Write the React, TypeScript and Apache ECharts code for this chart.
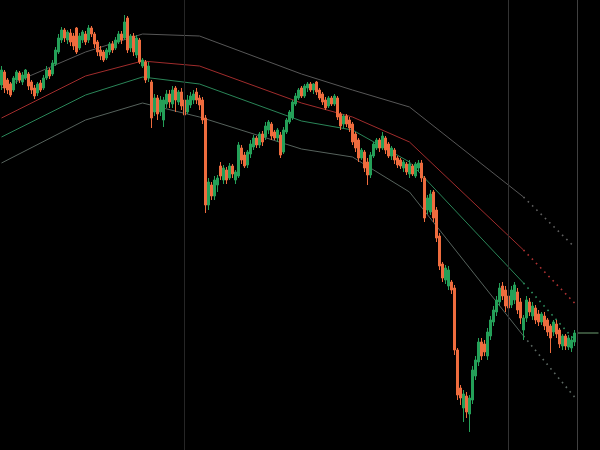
import React, { useEffect, useRef } from "react";
import * as echarts from "echarts";

// [open, close, low, high]
const candles: number[][] = [
  [415,430,410,434],[428,412,407,430],[420,410,406,422],[416,405,403,418],[410,422,408,424],
  [420,428,416,430],[427,420,417,429],[418,425,415,428],[422,430,420,431],[426,414,410,428],
  [418,410,406,420],[412,404,401,415],[407,416,404,418],[417,410,408,420],[412,422,410,425],
  [422,430,420,434],[430,424,421,432],[426,437,424,440],[436,450,434,453],[448,462,446,466],
  [460,470,457,473],[470,462,458,472],[460,468,456,470],[467,458,454,471],[464,454,450,467],
  [472,448,446,473],[452,464,450,467],[460,468,457,470],[466,458,455,469],[460,472,457,475],
  [472,466,463,474],[466,456,452,468],[458,448,444,460],[450,444,440,454],[448,440,438,450],
  [442,450,440,452],[448,456,445,458],[456,450,447,459],[452,460,450,463],[458,466,456,469],
  [466,460,456,469],[462,478,460,485],[482,450,447,484],[452,464,448,466],[464,448,444,467],
  [445,462,442,465],[460,438,436,462],[434,440,432,442],[438,420,417,440],[422,434,418,438],
  [418,382,372,420],[388,402,384,406],[402,386,380,405],[388,400,384,404],[380,400,373,403],
  [396,406,392,410],[406,398,392,410],[396,410,392,414],[412,400,388,414],[398,408,395,410],
  [408,394,390,412],[400,385,382,408],[388,400,386,405],[395,404,392,408],[400,406,396,410],
  [408,400,396,412],[402,395,390,405],[400,380,376,403],[382,295,287,385],[295,318,290,322],
  [315,304,300,318],[304,320,300,324],[315,322,308,325],[334,324,320,338],[320,332,316,335],
  [330,320,316,333],[322,334,320,337],[334,326,322,336],[320,328,316,330],[324,355,322,358],
  [352,340,336,355],[345,334,332,348],[335,348,332,350],[346,356,342,360],[353,362,350,365],
  [362,355,352,364],[355,366,352,368],[366,358,354,369],[363,374,360,378],[370,378,366,380],
  [376,364,360,378],[368,362,360,370],[362,370,358,372],[365,345,342,368],[348,370,346,373],
  [368,380,366,382],[378,388,376,390],[382,398,380,400],[396,404,394,407],[402,410,400,412],
  [412,404,402,414],[404,414,402,416],[412,416,408,418],[416,410,408,418],[410,416,406,417],
  [418,408,405,419],[410,402,400,412],[406,398,395,408],[400,392,390,403],[394,402,392,404],
  [402,396,394,404],[396,404,394,406],[402,383,380,404],[386,374,370,388],[376,384,372,386],
  [384,376,373,386],[380,372,368,383],[376,358,355,378],[366,352,348,368],[360,342,338,362],
  [342,350,340,352],[348,332,328,350],[338,325,315,342],[325,345,322,348],[344,356,342,358],
  [352,360,350,362],[360,352,348,362],[352,364,350,368],[362,350,346,364],[356,344,342,358],
  [344,352,340,354],[350,340,336,352],[342,335,332,344],[340,334,331,342],[332,338,328,340],
  [336,328,325,338],[326,336,322,340],[334,326,324,336],[324,336,322,338],[332,337,328,340],
  [337,322,318,340],[322,282,278,324],[290,302,286,305],[288,306,285,310],[308,282,278,310],
  [290,262,258,293],[264,234,230,267],[236,222,218,238],[220,232,216,235],[214,230,210,234],
  [218,210,206,220],[212,150,145,215],[150,105,100,152],[112,102,95,115],[92,106,78,110],
  [104,88,82,108],[86,102,68,105],[100,130,96,134],[124,140,120,144],[138,158,134,162],
  [158,144,140,162],[156,148,144,160],[144,168,140,172],[164,180,160,184],[178,190,174,194],
  [188,200,184,204],[198,212,194,217],[214,204,200,218],[210,194,188,214],[204,192,188,210],
  [195,210,192,214],[200,215,196,218],[208,190,186,212],[198,182,176,202],[170,182,160,185],
  [182,200,178,204],[198,188,184,202],[184,194,180,198],[192,180,176,195],[186,178,174,190],
  [178,186,175,188],[184,174,170,188],[180,168,164,182],[174,162,147,176],[168,178,164,180],
  [176,166,162,180],[170,156,152,172],[154,164,150,166],[164,154,150,166],[153,162,150,165],
  [152,160,148,164],[158,167,154,170],
];

const slotCount = 200;
const categories: string[] = Array.from({ length: slotCount }, (_, i) => String(i));

// band lines: knot positions (candle index) and values
const bandKnots = [0, 28, 47, 66, 100, 117, 136, 174];
const projEnd = 191;
const upperBand = [412, 448, 466, 464, 426, 410, 393, 303];
const upperProj = 253;
const midBand = [382, 424, 439, 434, 397, 383, 358, 250];
const midProj = 197;
const innerBand = [363, 405, 423, 416, 379, 370, 338, 217];
const innerProj = 160;
const lowerBand = [337, 380, 397, 383, 351, 343, 308, 164];
const lowerProj = 103;

const lastPrice = 167;
const lastPriceFrom = 192;
const lastPriceTo = 199;
const separators = [61, 169];
const nowMarker = 192;

export default function App() {
  const ref = useRef<HTMLDivElement>(null);
  useEffect(() => {
    document.body.style.margin = "0";
    document.body.style.background = "#000";
    const chart = echarts.init(ref.current!, null, { renderer: "svg" });

    const solid = (vals: number[]) => bandKnots.map((k, i) => [k, vals[i]]);
    const proj = (vals: number[], end: number) => [
      [bandKnots[bandKnots.length - 1], vals[vals.length - 1]],
      [projEnd, end],
    ];
    const lineSeries = (name: string, data: number[][], color: string, dotted: boolean) => ({
      name,
      type: "line",
      data,
      symbol: "none",
      silent: true,
      z: 1,
      lineStyle: dotted
        ? { color, width: 1.6, type: [1.6, 4.4], opacity: 1 }
        : { color, width: 1, type: "solid" },
    });

    chart.setOption({
      animation: false,
      backgroundColor: "#000000",
      grid: { left: 0, right: 0, top: 0, bottom: 0 },
      xAxis: {
        type: "category",
        data: categories,
        show: false,
        boundaryGap: true,
      },
      yAxis: {
        type: "value",
        min: 50,
        max: 500,
        show: false,
        splitLine: { show: false },
      },
      series: [
        {
          type: "candlestick",
          data: candles,
          barWidth: 2,
          z: 3,
          itemStyle: {
            color: "#24a058",
            color0: "#ee6c3e",
            borderColor: "#24a058",
            borderColor0: "#ee6c3e",
            borderWidth: 1,
          },
          markLine: {
            silent: true,
            symbol: "none",
            label: { show: false },
            data: [
              { xAxis: separators[0], lineStyle: { color: "#262626", width: 1, type: "solid" } },
              { xAxis: separators[1], lineStyle: { color: "#333333", width: 1, type: "solid" } },
              { xAxis: nowMarker, lineStyle: { color: "#404040", width: 1, type: "solid" } },
            ],
          },
        },
        lineSeries("upper", solid(upperBand), "#575757", false),
        lineSeries("upperP", proj(upperBand, upperProj), "#606060", true),
        lineSeries("mid", solid(midBand), "#a02c2c", false),
        lineSeries("midP", proj(midBand, midProj), "#b03232", true),
        lineSeries("inner", solid(innerBand), "#2a8558", false),
        lineSeries("innerP", proj(innerBand, innerProj), "#2f9060", true),
        lineSeries("lower", solid(lowerBand), "#56625c", false),
        lineSeries("lowerP", proj(lowerBand, lowerProj), "#5e6a64", true),
        {
          name: "last",
          type: "line",
          data: [
            [lastPriceFrom, lastPrice],
            [lastPriceTo, lastPrice],
          ],
          symbol: "none",
          silent: true,
          lineStyle: { color: "#6f9f72", width: 1 },
        },
      ],
    });
    return () => chart.dispose();
  }, []);
  return (
    <div
      ref={ref}
      style={{ position: "fixed", left: 0, top: 0, width: 600, height: 450, background: "#000" }}
    />
  );
}
